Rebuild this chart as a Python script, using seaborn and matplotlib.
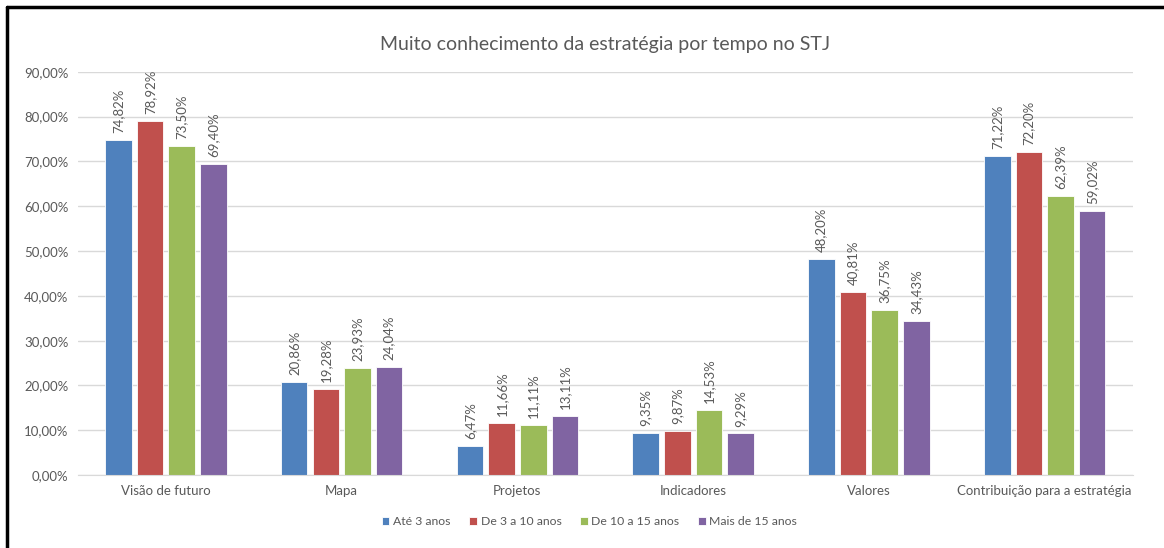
import pandas as pd
import matplotlib.pyplot as plt
import seaborn as sns
from matplotlib.ticker import FuncFormatter

categorias = ['Visão de futuro', 'Mapa', 'Projetos', 'Indicadores', 'Valores',
              'Contribuição para a estratégia']
grupos = ['Até 3 anos', 'De 3 a 10 anos', 'De 10 a 15 anos', 'Mais de 15 anos']
ate_3 = [74.82, 20.86, 6.47, 9.35, 48.20, 71.22]
de_3_10 = [78.92, 19.28, 11.66, 9.87, 40.81, 72.20]
de_10_15 = [73.50, 23.93, 11.11, 14.53, 36.75, 62.39]
mais_15 = [69.40, 24.04, 13.11, 9.29, 34.43, 59.02]
cores = ['#4F81BD', '#C0504D', '#9BBB59', '#8064A2']

# long format for seaborn
rows = []
for grupo, vals in zip(grupos, [ate_3, de_3_10, de_10_15, mais_15]):
    for cat, v in zip(categorias, vals):
        rows.append({'categoria': cat, 'grupo': grupo, 'valor': v / 100})
df = pd.DataFrame(rows)

sns.set_style('white')
plt.rcParams['font.family'] = ['Lato', 'DejaVu Sans']
texto = '#595959'

fig = plt.figure(figsize=(11.64, 5.48), dpi=100)
ax = fig.add_axes([0.067, 0.133, 0.906, 0.736])

sns.barplot(data=df, x='categoria', y='valor', hue='grupo', order=categorias,
            hue_order=grupos, palette=cores, saturation=1, width=0.72, gap=0.16,
            edgecolor='white', linewidth=0.6, errorbar=None, ax=ax)

for cont in ax.containers:
    labels = [f'{b.get_height() * 100:.2f}%'.replace('.', ',') for b in cont]
    ax.bar_label(cont, labels=labels, rotation=90, padding=5,
                 fontsize=9.5, color=texto)

ax.set_ylim(0, 0.9)
ax.set_yticks([i / 10 for i in range(10)])
ax.yaxis.set_major_formatter(FuncFormatter(lambda v, p: f'{v * 100:.2f}%'.replace('.', ',')))
ax.grid(axis='y', color='#D9D9D9', linewidth=1)
ax.set_axisbelow(True)
for s in ['top', 'right', 'left']:
    ax.spines[s].set_visible(False)
ax.spines['bottom'].set_color('#D9D9D9')
ax.tick_params(axis='both', length=0, labelsize=9.5, colors=texto, pad=7)
ax.set_xlabel('')
ax.set_ylabel('')
ax.set_title('Muito conhecimento da estratégia por tempo no STJ',
             fontsize=14, color=texto, pad=16)

ax.legend(loc='upper center', bbox_to_anchor=(0.485, -0.075), ncol=4, frameon=False,
          fontsize=8.8, handlelength=0.65, handleheight=0.65, handletextpad=0.3,
          columnspacing=1.5, labelcolor=texto)

# black border on top and left like the original screenshot
fig.add_artist(plt.Line2D([0.006, 0.006], [0, 0.988], color='black', linewidth=2.5,
                          transform=fig.transFigure))
fig.add_artist(plt.Line2D([0.006, 1], [0.988, 0.988], color='black', linewidth=2.5,
                          transform=fig.transFigure))

fig.savefig('out.png', dpi=100)
